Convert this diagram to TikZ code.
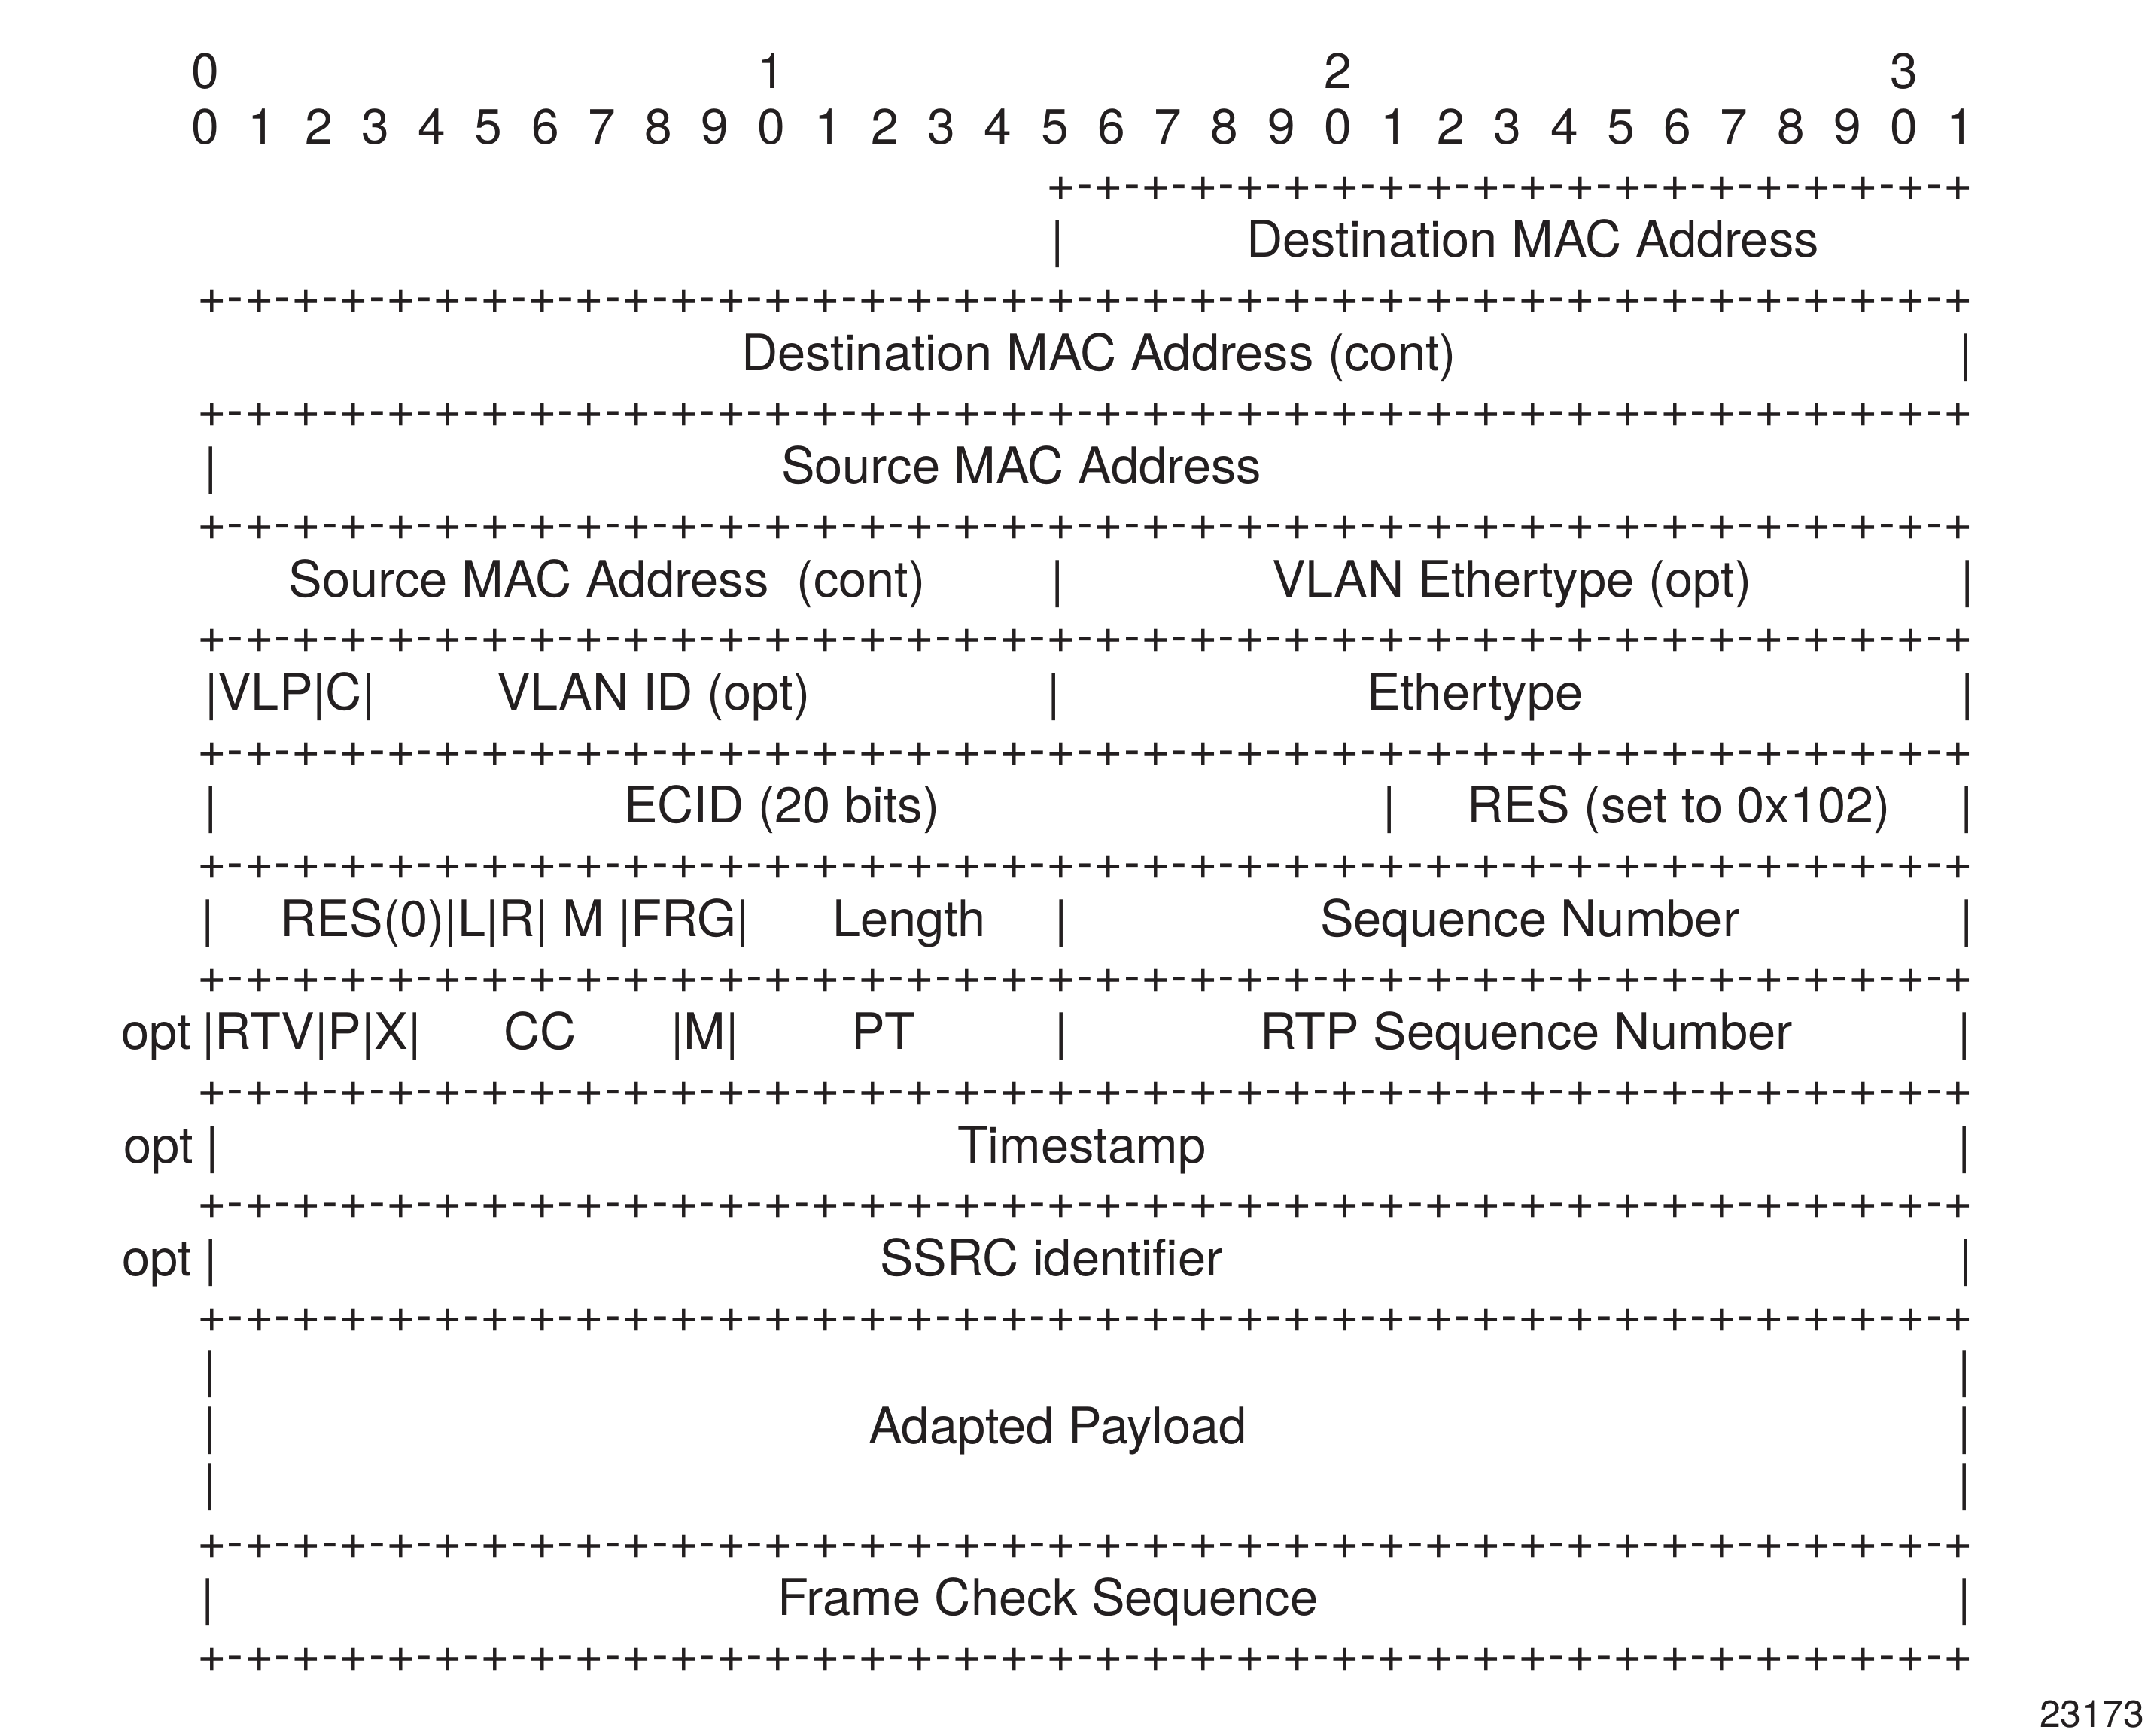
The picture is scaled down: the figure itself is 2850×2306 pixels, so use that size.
\documentclass[tikz,border=0pt]{standalone}
\usepackage{fontspec}
\setmainfont{TeX Gyre Heros}
\definecolor{ink}{HTML}{231F20}
\begin{document}
\begin{tikzpicture}[x=0.25pt,y=-0.25pt,
  every node/.style={inner sep=0pt, outer sep=0pt, text=ink},
  lbl/.style={anchor=base west, font=\fontsize{16.7}{19}\selectfont},
  vbar/.style={anchor=base, font=\fontsize{16.7}{19}\selectfont},
  glyph/.style={anchor=base, font=\fontsize{16.5}{19}\selectfont}]
\useasboundingbox (0,0) rectangle (2850,2306);
% bit numbers
\foreach \i in {0,...,31} {
  \pgfmathtruncatemacro\d{mod(\i,10)}
  \node[glyph] (bit\i) at ({273+\i*75.23},191) {\d};
}
\foreach \i/\d in {0/0,10/1,20/2,30/3}
  \node[glyph] (dec\d) at ({273+\i*75.23},117.5) {\d};
% separator lines +-+-+
\foreach \k/\s in {0/18,1/0,2/0,3/0,4/0,5/0,6/0,7/0,8/0,9/0,10/0,12/0,13/0} {
  \pgfmathsetmacro\yy{249.6+\k*150.4+16.7}
  \foreach \i in {\s,...,37}
    \node[glyph] (p\k-\i) at ({281.6+\i*62.7},\yy) {+};
  \foreach \i in {\s,...,36}
    \node[glyph] (m\k-\i) at ({281.6+(\i+0.5)*62.7},\yy) {-};
}
% row 0
\node[vbar] (r0b1) at (1405,341.8) {|};
\node[lbl] (dmac) at (1656,341.8) {Destination MAC Address};
% row 1
\node[lbl] (dmacc) at (985,492.2) {Destination MAC Address (cont)};
\node[vbar] (r1b2) at (2612,492.2) {|};
% row 2
\node[vbar] (r2b1) at (280,642.6) {|};
\node[lbl] (smac) at (1038,642.6) {Source MAC Address};
% row 3
\node[lbl] (smacc) at (383.5,793) {Source MAC Address~~(cont)};
\node[vbar] (r3b1) at (1405,793) {|};
\node[lbl] (vlanet) at (1690,793) {VLAN Ethertype (opt)};
\node[vbar] (r3b2) at (2614,793) {|};
% row 4
\node[lbl] (vlp) at (272,943.4) {|VLP|C|};
\node[lbl] (vlanid) at (660,943.4) {VLAN ID (opt)};
\node[vbar] (r4b1) at (1400,943.4) {|};
\node[lbl] (etype) at (1816,943.4) {Ethertype};
\node[vbar] (r4b2) at (2614,943.4) {|};
% row 5
\node[vbar] (r5b0) at (280,1093.8) {|};
\node[lbl] (ecid) at (829,1093.8) {ECID (20 bits)};
\node[vbar] (r5b1) at (1846.6,1093.8) {|};
\node[lbl] (res) at (1949,1093.8) {RES (set to 0x102)};
\node[vbar] (r5b2) at (2613,1093.8) {|};
% row 6
\node[vbar] (r6b0) at (276,1244.2) {|};
\node[lbl] (res0) at (372,1244.2) {RES(0)|L|R| M |FRG|};
\node[lbl] (len) at (1106,1244.2) {Length};
\node[vbar] (r6b1) at (1410,1244.2) {|};
\node[lbl] (seq) at (1754,1244.2) {Sequence Number};
\node[vbar] (r6b2) at (2613,1244.2) {|};
% row 7
\node[lbl] (opt7) at (161,1394.6) {opt};
\node[lbl] (rtv) at (268.4,1394.6) {|RTV|P|X|};
\node[lbl] (cc) at (669,1394.6) {CC};
\node[lbl] (mm) at (891.4,1394.6) {|M|};
\node[lbl] (pt) at (1131,1394.6) {PT};
\node[vbar] (r7b1) at (1410,1394.6) {|};
\node[lbl] (rtpseq) at (1674,1394.6) {RTP Sequence Number};
\node[vbar] (r7b2) at (2610,1394.6) {|};
% row 8
\node[lbl] (opt8) at (164,1545) {opt};
\node[vbar] (r8b0) at (282,1545) {|};
\node[lbl] (ts) at (1272,1545) {Timestamp};
\node[vbar] (r8b2) at (2610,1545) {|};
% row 9
\node[lbl] (opt9) at (162.5,1695.4) {opt};
\node[vbar] (r9b0) at (280,1695.4) {|};
\node[lbl] (ssrc) at (1169,1695.4) {SSRC identifier};
\node[vbar] (r9b2) at (2612,1695.4) {|};
% payload
\foreach \j/\yy in {1/1843,2/1918,3/1993} {
  \node[vbar] (plb\j) at (279.5,\yy) {|};
  \node[vbar] (prb\j) at (2610,\yy) {|};
}
\node[lbl] (payload) at (1154,1918) {Adapted Payload};
% fcs
\node[vbar] (r12b0) at (276,2146.6) {|};
\node[lbl] (fcs) at (1033,2146.6) {Frame Check Sequence};
\node[vbar] (r12b2) at (2610,2146.6) {|};
% figure number
\node[anchor=base west, font=\fontsize{12.5}{15}\selectfont] (fignum) at (2710,2295) {23173};
\end{tikzpicture}
\end{document}
